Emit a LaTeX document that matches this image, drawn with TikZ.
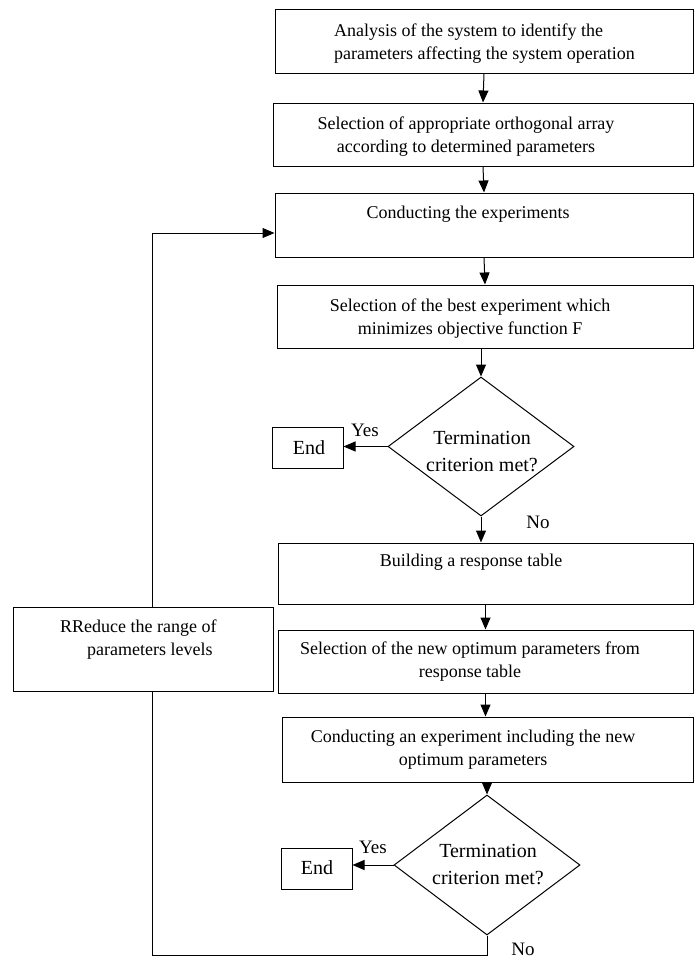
\documentclass[tikz,border=0pt]{standalone}
\usepackage{fontspec}
\setmainfont{Liberation Serif}
\usetikzlibrary{shapes.geometric,arrows.meta}

\begin{document}
\begin{tikzpicture}[x=1pt,y=-1pt,
    box/.style={draw,line width=1pt,inner sep=0pt},
    decision/.style={draw,diamond,line width=1pt,inner sep=0pt},
    txt/.style={inner sep=0pt,align=center,font=\fontsize{18}{23}\selectfont},
    big/.style={inner sep=0pt,align=center,font=\fontsize{20}{27}\selectfont},
    answer/.style={inner sep=0pt,font=\fontsize{19}{23}\selectfont},
    arrow/.style={line width=1pt,-{Triangle[width=10pt,length=12pt]}}]
    \useasboundingbox (0,0) rectangle (694,961);

    \node[box,minimum width=418pt,minimum height=64pt] (analysis) at (484,41) {};
    \node[box,minimum width=420pt,minimum height=63pt] (array) at (483,134.5) {};
    \node[box,minimum width=418pt,minimum height=64pt] (conduct) at (484,225) {};
    \node[box,minimum width=416pt,minimum height=63pt] (best) at (485,316.5) {};
    \node[decision,minimum width=186pt,minimum height=139pt] (term1) at (481,446.5) {};
    \node[box,minimum width=71pt,minimum height=41pt] (end1) at (307.5,447.5) {};
    \node[box,minimum width=415pt,minimum height=61pt] (table) at (485.5,573.5) {};
    \node[box,minimum width=415pt,minimum height=63pt] (optimum) at (485.5,661.5) {};
    \node[box,minimum width=411pt,minimum height=65pt] (experiment) at (487.5,749.5) {};
    \node[decision,minimum width=186pt,minimum height=140pt] (term2) at (487,865) {};
    \node[box,minimum width=71pt,minimum height=41pt] (end2) at (316.5,868.5) {};
    \node[box,minimum width=260pt,minimum height=84pt] (reduce) at (143,649) {};

    \node[txt,align=left,anchor=west] (analysis-t) at (334,43.5) {Analysis of the system to identify the\\parameters affecting the system operation};
    \node[txt] (array-t) at (466,136.5) {Selection of appropriate orthogonal array\\according to determined parameters};
    \node[txt] (conduct-t) at (468,214) {Conducting the experiments};
    \node[txt] (best-t) at (470,319) {Selection of the best experiment which\\minimizes objective function F};
    \node[big] (term1-t) at (482,451.5) {Termination\\criterion met?};
    \node[big] (end1-t) at (309,448) {End};
    \node[txt] (table-t) at (471,562) {Building a response table};
    \node[txt] (optimum-t) at (470,661.5) {Selection of the new optimum parameters from\\response table};
    \node[txt] (experiment-t) at (473,749.5) {Conducting an experiment including the new\\optimum parameters};
    \node[big] (term2-t) at (488,865) {Termination\\criterion met?};
    \node[big] (end2-t) at (317,868) {End};
    \node[txt,align=left,anchor=west] (reduce-t) at (60,640) {RReduce the range of\\\hspace*{27pt}parameters levels};

    \node[answer] (yes1) at (365,430) {Yes};
    \node[answer] (no1) at (538,522) {No};
    \node[answer] (yes2) at (373,847) {Yes};
    \node[answer] (no2) at (523,949) {No};

    \coordinate (loopbot) at (152,955);
    \coordinate (looptop) at (152,233);

    \draw[arrow] (analysis.south) -- (array.north);
    \draw[arrow] (array.south) -- (conduct.north);
    \draw[arrow] (conduct.south) -- (best.north);
    \draw[arrow] (best.south -| term1.north) -- (term1.north);
    \draw[arrow] (term1.west) -- (end1.east |- term1.west);
    \draw[arrow] (term1.south) -- (term1.south |- table.north);
    \draw[arrow] (table.south) -- (optimum.north);
    \draw[arrow] (optimum.south) -- (optimum.south |- experiment.north);
    \draw[arrow] (experiment.south -| term2.north) -- (term2.north);
    \draw[arrow] (term2.west) -- (end2.east |- term2.west);

    \draw[line width=1pt] (term2.south) |- (loopbot) -- (loopbot |- reduce.south);
    \draw[arrow] (loopbot |- reduce.north) -- (looptop) -- (conduct.west |- looptop);
\end{tikzpicture}
\end{document}
